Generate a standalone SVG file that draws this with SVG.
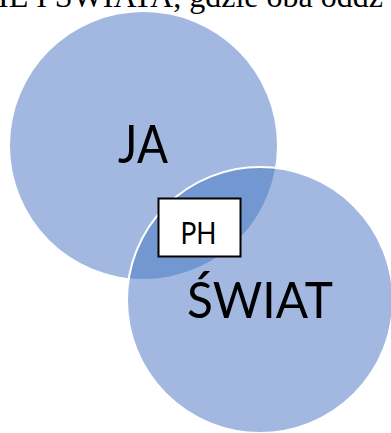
<svg xmlns="http://www.w3.org/2000/svg" width="391" height="433" viewBox="0 0 391 433">
  <defs>
    <style>
      .disc { fill: #a2b8e0; }
      .rim { fill: none; stroke: #ffffff; stroke-width: 2; }
      .overlap { fill: #7297d1; }
      .big { font-family: Lato, "Open Sans", "Liberation Sans", sans-serif; fill: #000000; text-anchor: middle; }
      .caption { font-family: "Liberation Serif", "DejaVu Serif", serif; font-size: 32px; fill: #000000; }
      .tag rect { fill: #ffffff; stroke: #000000; stroke-width: 2; }
    </style>
    <clipPath id="ja-clip">
      <circle cx="143.5" cy="145.5" r="133.5"/>
    </clipPath>
  </defs>

  <!-- caption line running off the top edge -->
  <text class="caption" x="-2" y="7">IE I ŚWIATA, gdzie oba oddz</text>

  <!-- self circle -->
  <g id="ja">
    <circle class="disc" cx="143.5" cy="145.5" r="133.5"/>
    <text class="big" x="143" y="163" font-size="53" textLength="50" lengthAdjust="spacingAndGlyphs">JA</text>
  </g>

  <!-- world circle, with the shared region shaded darker -->
  <g id="swiat">
    <circle class="disc" cx="260" cy="300" r="133"/>
    <circle class="overlap" cx="260" cy="300" r="133" clip-path="url(#ja-clip)"/>
    <circle class="rim" cx="260" cy="300" r="133"/>
    <text class="big" x="260" y="318" font-size="51" textLength="146" lengthAdjust="spacingAndGlyphs">ŚWIAT</text>
  </g>

  <!-- label box in the overlap -->
  <g id="ph" class="tag">
    <rect x="158.5" y="198.5" width="82" height="58"/>
    <text class="big" x="198.5" y="243.5" font-size="30" textLength="36" lengthAdjust="spacingAndGlyphs">PH</text>
  </g>

  <g id="connectors"/>
</svg>
